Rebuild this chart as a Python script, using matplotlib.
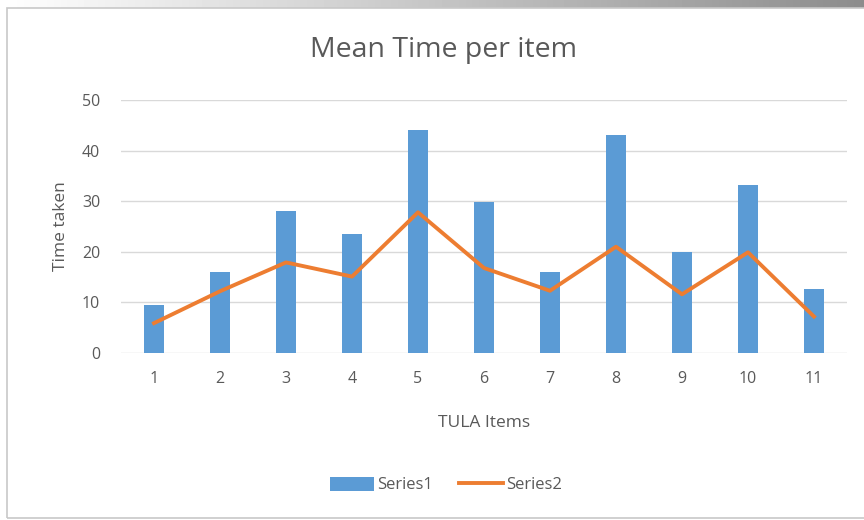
import numpy as np
import matplotlib.pyplot as plt
from matplotlib.patches import Rectangle

# ========data
items = [1, 2, 3, 4, 5, 6, 7, 8, 9, 10, 11]
series1 = [9.5, 16.1, 28.0, 23.5, 44.1, 29.9, 16.1, 43.0, 19.9, 33.2, 12.6]
series2 = [5.9, 12.2, 17.9, 15.1, 27.8, 16.8, 12.3, 21.0, 11.6, 19.9, 7.2]
yticks = [0, 10, 20, 30, 40, 50]

plt.rcParams["font.family"] = ["Open Sans", "DejaVu Sans"]
txt = "#595959"

fig = plt.figure(figsize=(8.64, 5.2), dpi=100)
fig.patch.set_facecolor("white")

# gray frame around the chart like the screenshot
fig.patches.append(Rectangle((0.008, 0.004), 1.2, 0.98, transform=fig.transFigure,
                             fill=False, edgecolor="#c8c8c8", lw=1.2))
grad = np.linspace(1, 0.55, 256).reshape(1, -1)
gax = fig.add_axes([0, 0.984, 1, 0.016])
gax.imshow(grad, aspect="auto", cmap="gray", vmin=0, vmax=1)
gax.axis("off")

ax = fig.add_axes([121 / 864, 1 - 353 / 520, (847 - 121) / 864, (353 - 100) / 520])
x = np.arange(len(items)) + 1
b = ax.bar(x, series1, width=0.3, color="#5b9bd5", label="Series1", zorder=2)
l, = ax.plot(x, series2, color="#ed7d31", lw=2.8, label="Series2", zorder=3)

ax.set_xlim(0.5, 11.5)
ax.set_ylim(0, 50)
ax.set_yticks(yticks)
ax.set_xticks(x)
ax.set_xticklabels([str(i) for i in items])
ax.grid(axis="y", color="#d9d9d9", lw=1, zorder=0)
for s in ["top", "right", "left", "bottom"]:
    ax.spines[s].set_visible(False)
ax.tick_params(length=0, labelsize=11.5, colors=txt, pad=13)
ax.tick_params(axis="y", pad=15)

fig.text(443 / 864, 1 - 50 / 520, "Mean Time per item", fontsize=20.5, color=txt,
         ha="center", va="center")
ax.set_xlabel("TULA Items", fontsize=12.5, color=txt, labelpad=20)
ax.set_ylabel("Time taken", fontsize=12.5, color=txt, labelpad=9)

ax.legend([b, l], ["Series1", "Series2"], loc="center", bbox_to_anchor=(446 / 864, 1 - 485 / 520),
          bbox_transform=fig.transFigure, ncol=2, frameon=False,
          fontsize=12, labelcolor=txt, handlelength=2.6, handleheight=0.9,
          handletextpad=0.2, columnspacing=1.6)

fig.savefig("out.png", dpi=100)
